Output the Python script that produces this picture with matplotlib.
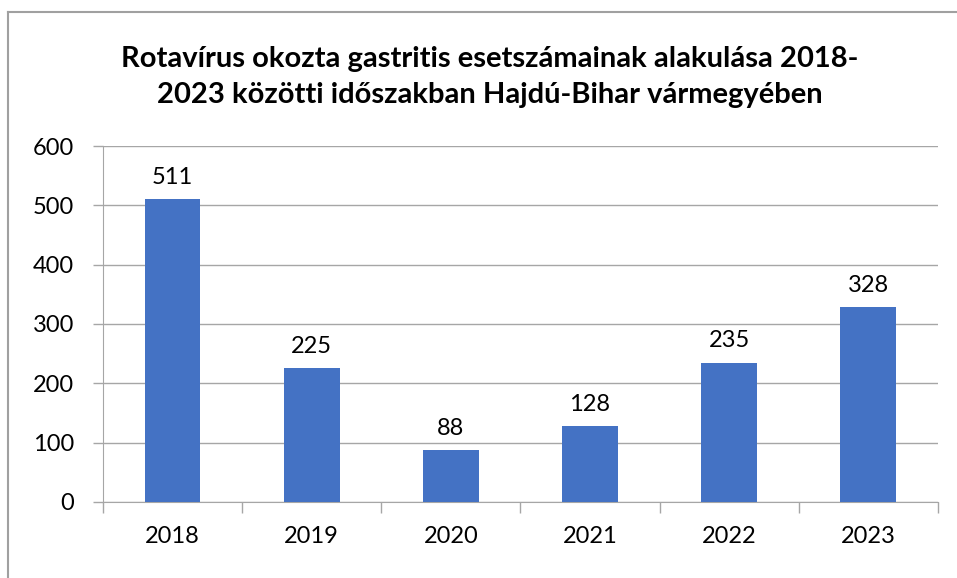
import matplotlib.pyplot as plt
from matplotlib.lines import Line2D

# --- data ---
years = ["2018", "2019", "2020", "2021", "2022", "2023"]
cases = [511, 225, 88, 128, 235, 328]
y_ticks = [0, 100, 200, 300, 400, 500, 600]

title = ("Rotavírus okozta gastritis esetszámainak alakulása 2018-\n"
         "2023 közötti időszakban Hajdú-Bihar vármegyében")

plt.rcParams["font.family"] = ["Lato", "DejaVu Sans"]

fig = plt.figure(figsize=(9.57, 5.78), dpi=100)
ax = fig.add_axes([0.1076, 0.1315, 0.8724, 0.6159])

x = range(len(years))
bars = ax.bar(x, cases, width=0.4, color="#4472C4", zorder=3)

for xi, v in zip(x, cases):
    ax.annotate(str(v), (xi, v), xytext=(0, 8), textcoords="offset points",
                ha="center", va="bottom", fontsize=17, color="#000000")

ax.set_xlim(-0.5, len(years) - 0.5)
ax.set_ylim(0, 600)
ax.set_yticks(y_ticks)
ax.set_yticklabels([str(t) for t in y_ticks], fontsize=17)
ax.set_xticks(list(x))
ax.set_xticklabels(years, fontsize=17)

# tick marks between categories on the x axis
ax.set_xticks([i - 0.5 for i in range(len(years) + 1)], minor=True)
ax.tick_params(axis="x", which="major", length=0, pad=17)
ax.tick_params(axis="x", which="minor", length=8, width=1, color="#A6A6A6")
ax.tick_params(axis="y", length=7, width=1, color="#A6A6A6", pad=14)

ax.grid(axis="y", color="#A6A6A6", linewidth=1, zorder=0)
for s in ["top", "right"]:
    ax.spines[s].set_visible(False)
ax.spines["left"].set_color("#A6A6A6")
ax.spines["bottom"].set_color("#A6A6A6")

fig.text(0.512, 0.867, title, ha="center", va="center", fontsize=21,
         fontweight="bold", linespacing=1.5)

# chart frame (top and left visible)
fig.add_artist(Line2D([8 / 957, 1], [1 - 12 / 578] * 2, color="#A0A0A0", lw=1.5,
                      transform=fig.transFigure))
fig.add_artist(Line2D([8 / 957] * 2, [0, 1 - 12 / 578], color="#A0A0A0", lw=1.5,
                      transform=fig.transFigure))

fig.savefig("out.png", dpi=100)
